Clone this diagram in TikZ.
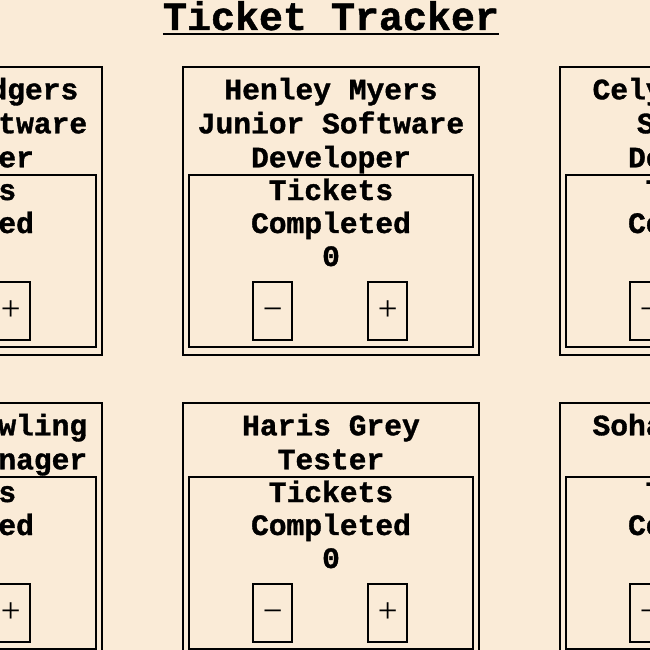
\documentclass[tikz,border=0pt]{standalone}
\usepackage{fontspec}
\newfontfamily\courfont{Liberation Mono}[BoldFeatures={FakeBold=1.2}]
\newfontfamily\signfont{Liberation Serif}
\definecolor{bg}{HTML}{FAEBD7}
\tikzset{
 box/.style={draw=black, line width=2pt, rectangle, inner sep=0pt, outer sep=0pt, anchor=north west},
 lbl/.style={font=\courfont\bfseries\fontsize{29.6}{34}\selectfont, inner sep=0pt, anchor=base},
 sign/.style={font=\signfont\fontsize{35}{40}\selectfont, inner sep=0pt, anchor=base},
 ttl/.style={font=\courfont\bfseries\fontsize{40}{46}\selectfont, inner sep=0pt, anchor=base},
}
\newcommand\tcard[5]{%
 \pgfmathsetmacro\innerOff{6+34*#4}%
 \pgfmathsetmacro\outH{\innerOff+180}%
 \node[box, minimum width=296, minimum height=\outH] (#1) at (#2,#3) {};
 \node[box, minimum width=284, minimum height=172] (#1-in) at (#2+6,#3+\innerOff) {};
 \foreach \t [count=\i] in {#5} {\node[lbl] (#1-h\i) at (#2+148,#3+32.3+34*\i-34) {\t};}
 \node[lbl] (#1-t1) at (#2+148,#3+\innerOff+25) {Tickets};
 \node[lbl] (#1-t2) at (#2+148,#3+\innerOff+58) {Completed};
 \node[lbl] (#1-t3) at (#2+148,#3+\innerOff+91) {0};
 \node[box, minimum width=39, minimum height=58] (#1-minus) at (#2+70.3,#3+\innerOff+107.3) {};
 \node[box, minimum width=39, minimum height=58] (#1-plus) at (#2+185.3,#3+\innerOff+107.3) {};
 \node[sign] (#1-ms) at ([yshift=-8.7pt]#1-minus.center) {−};
 \node[sign] (#1-ps) at ([yshift=-8.7pt]#1-plus.center) {+};
}
\begin{document}
\begin{tikzpicture}[x=1pt,y=-1pt]
\useasboundingbox (0,0) rectangle (650,650);
\clip (0,0) rectangle (650,650);
\fill[bg] (0,0) rectangle (650,650);
\node[ttl] (title) at (331,30) {Ticket Tracker};
\draw[line width=2.5pt] ([yshift=-4pt]title.base west) -- ([yshift=-4pt]title.base east);
\tcard{c1}{-194}{67}{3}{Martin Rodgers,Senior Software,Developer}
\tcard{c2}{183}{67}{3}{Henley Myers,Junior Software,Developer}
\tcard{c3}{560}{67}{3}{Celyn Roberts,Software,Developer}
\tcard{c4}{-194}{403}{2}{Siobhan Rowling,Project Manager}
\tcard{c5}{183}{403}{2}{Haris Grey,Tester}
\tcard{c6}{560}{403}{2}{Sohaib Rahman,Tester}
\end{tikzpicture}
\end{document}
